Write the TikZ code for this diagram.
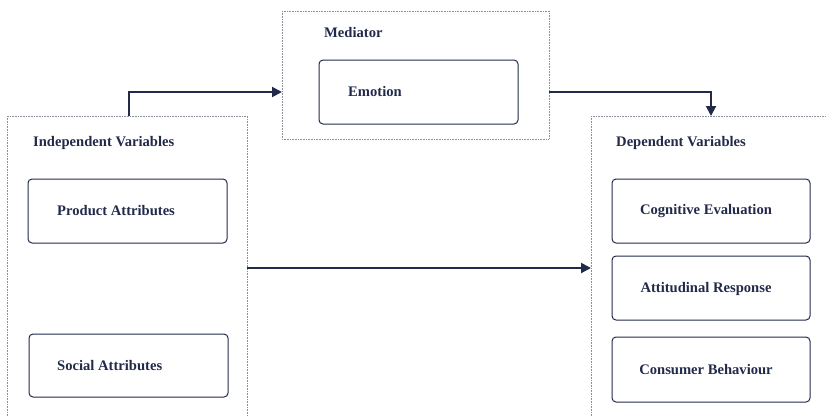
\documentclass[tikz,border=0pt]{standalone}
\usepackage{fontspec}
\setmainfont{Liberation Serif}
\usetikzlibrary{arrows.meta}
\definecolor{navy}{HTML}{222A4A}
\definecolor{dotgray}{HTML}{8A8E9A}
\begin{document}
\begin{tikzpicture}[x=1pt,y=-1pt,
  outerbox/.style={draw=dotgray, dash pattern=on 1pt off 0.6pt, line width=0.9pt},
  innerbox/.style={draw=navy, rounded corners=4pt, line width=1pt},
  lbl/.style={text=navy, font=\bfseries\fontsize{14.6}{17}\selectfont, inner sep=0pt},
  conn/.style={draw=navy, line width=2pt, -{Triangle[length=10pt,width=10pt]}}]
\useasboundingbox (0,0) rectangle (826,416);
\clip (0,0) rectangle (826,416);
% outer boxes
\draw[outerbox] (7,116) rectangle (247,430);
\draw[outerbox] (282,11) rectangle (549,139);
\draw[outerbox] (591,116) rectangle (840,430);
% coordinates for box edges
\coordinate (indtop) at (129,116);
\coordinate (indright) at (247,268);
\coordinate (medleft) at (282,92);
\coordinate (medright) at (549,92);
\coordinate (deptop) at (711,116);
\coordinate (depleft) at (591,268);
% titles
\node[lbl, anchor=west] (tind) at (33,143) {Independent Variables};
\node[lbl, anchor=west] (tmed) at (324,33) {Mediator};
\node[lbl, anchor=west] (tdep) at (616,143) {Dependent Variables};
% inner boxes
\draw[innerbox] (28,179) rectangle (227,243);
\node[lbl, anchor=west] (pa) at (57,211) {Product Attributes};
\draw[innerbox] (29,334) rectangle (228,397);
\node[lbl, anchor=west] (sa) at (57,366) {Social Attributes};
\draw[innerbox] (319,60) rectangle (518,124);
\node[lbl, anchor=west] (em) at (348,92) {Emotion};
\draw[innerbox] (612,179) rectangle (810,243);
\node[lbl] (ce) at (706,211) {Cognitive Evaluation};
\draw[innerbox] (612,256) rectangle (810,320);
\node[lbl] (ar) at (706,289) {Attitudinal Response};
\draw[innerbox] (612,337) rectangle (810,402);
\node[lbl] (cb) at (706,370) {Consumer Behaviour};
% connectors
\draw[conn] (indtop) |- (medleft);
\draw[conn] (medright) -| (deptop);
\draw[conn] (indright) -- (depleft);
\end{tikzpicture}
\end{document}
